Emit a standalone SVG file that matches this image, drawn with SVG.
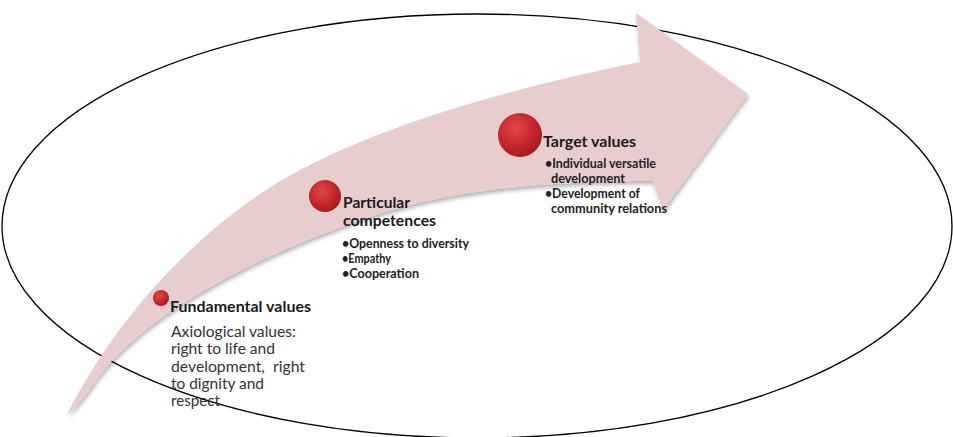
<svg xmlns="http://www.w3.org/2000/svg" width="953" height="437" viewBox="0 0 953 437">
<defs>
<radialGradient id="ball" cx="0.4" cy="0.35" r="0.7">
<stop offset="0" stop-color="#E04848"/>
<stop offset="0.6" stop-color="#C4262A"/>
<stop offset="1" stop-color="#9E1A1E"/>
</radialGradient>
<filter id="sh" x="-10%" y="-10%" width="120%" height="130%">
<feDropShadow dx="1" dy="3" stdDeviation="2" flood-color="#000" flood-opacity="0.3"/>
</filter>
<style>
.b{font-family:Lato,"Open Sans",sans-serif;font-weight:bold;font-size:16px;fill:#1a1a1a}
.r{font-family:Lato,"Open Sans",sans-serif;font-size:15.5px;fill:#333}
.s{font-family:Lato,"Open Sans",sans-serif;font-weight:bold;font-size:12.5px;fill:#222}
</style>
</defs>
<rect width="953" height="437" fill="#fff"/>
<g id="connectors">
<ellipse cx="477" cy="226" rx="475" ry="212" fill="none" stroke="#000" stroke-width="1.3"/>
<path id="arrow" d="M67,415 C121,308 210,218 300,170 C400,117 540,82 640,62 L636,13 L748,94 L663,210 L653,181 C553,181 450,188 360,220 C260,255 150,310 100,375 C88,392 78,405 67,415 Z" fill="#E8CDCE" filter="url(#sh)"/>
</g>
<g id="fundamental">
<circle cx="161" cy="298" r="8" fill="url(#ball)"/>
<text class="b" x="170" y="312" textLength="141" lengthAdjust="spacingAndGlyphs">Fundamental values</text>
<text class="r" x="171" y="337" textLength="125" lengthAdjust="spacingAndGlyphs">Axiological values:</text>
<text class="r" x="171" y="354" textLength="104" lengthAdjust="spacingAndGlyphs">right to life and</text>
<text class="r" x="171" y="372" xml:space="preserve" textLength="134" lengthAdjust="spacingAndGlyphs">development,  right</text>
<text class="r" x="171" y="389" textLength="93" lengthAdjust="spacingAndGlyphs">to dignity and</text>
<text class="r" x="171" y="406" textLength="49" lengthAdjust="spacingAndGlyphs">respect</text>
</g>
<g id="particular">
<circle cx="325" cy="196" r="16" fill="url(#ball)"/>
<text class="b" x="343" y="208" textLength="67" lengthAdjust="spacingAndGlyphs">Particular</text>
<text class="b" x="343" y="226" textLength="93" lengthAdjust="spacingAndGlyphs">competences</text>
<text class="s" x="342" y="248" textLength="127" lengthAdjust="spacingAndGlyphs">•Openness to diversity</text>
<text class="s" x="342" y="263" textLength="49" lengthAdjust="spacingAndGlyphs">•Empathy</text>
<text class="s" x="342" y="278" textLength="77" lengthAdjust="spacingAndGlyphs">•Cooperation</text>
</g>
<g id="target">
<circle cx="520" cy="135" r="22" fill="url(#ball)"/>
<text class="b" x="543" y="147" textLength="93" lengthAdjust="spacingAndGlyphs">Target values</text>
<text class="s" x="545" y="168" textLength="111" lengthAdjust="spacingAndGlyphs">•Individual versatile</text>
<text class="s" x="551" y="183" textLength="74" lengthAdjust="spacingAndGlyphs">development</text>
<text class="s" x="545" y="198" textLength="95" lengthAdjust="spacingAndGlyphs">•Development of</text>
<text class="s" x="551" y="213" textLength="116" lengthAdjust="spacingAndGlyphs">community relations</text>
</g>
</svg>
